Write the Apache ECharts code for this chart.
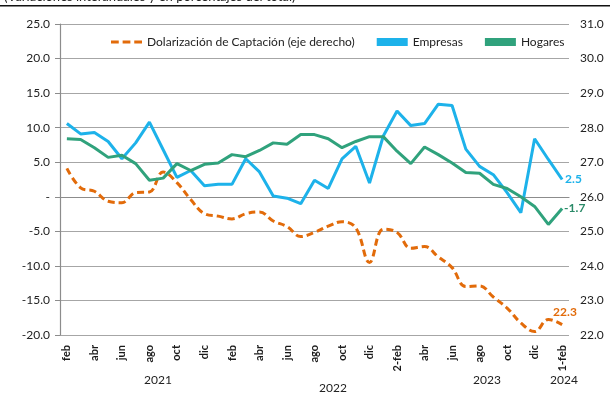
<!DOCTYPE html>
<html><head><meta charset="utf-8">
<script src="https://cdn.jsdelivr.net/npm/echarts@6/dist/echarts.min.js"></script>
<style>html,body{margin:0;padding:0;background:#fff}#c{width:610px;height:415px}</style>
</head><body><div id="c"></div>
<script>
const months = ['feb','mar','abr','may','jun','jul','ago','sep','oct','nov','dic','ene',
  'feb','mar','abr','may','jun','jul','ago','sep','oct','nov','dic','ene',
  '2-feb','mar','abr','may','jun','jul','ago','sep','oct','nov','dic','ene','1-feb'];
const years = ['2021','2022','2023','2024'];
const empresas = [10.6,9.1,9.3,8.0,5.5,7.8,10.8,6.8,2.8,3.8,1.6,1.8,1.8,5.5,3.6,0.1,-0.2,-1.0,2.4,1.2,5.5,7.3,2.0,8.8,12.4,10.3,10.6,13.4,13.2,6.9,4.4,3.2,0.6,-2.3,8.4,5.4,2.5];
const hogares = [8.4,8.3,7.1,5.7,6.0,4.8,2.4,2.7,4.8,3.8,4.7,4.9,6.1,5.8,6.7,7.8,7.6,9.0,9.0,8.4,7.1,8.0,8.7,8.7,6.6,4.8,7.2,6.1,4.9,3.5,3.4,1.8,1.2,0.0,-1.4,-4.0,-1.7];
const dolarizacion = [26.82,26.26,26.16,25.87,25.83,26.12,26.14,26.72,26.41,25.92,25.51,25.44,25.36,25.51,25.56,25.3,25.14,24.85,24.97,25.15,25.28,25.1,24.1,25.06,24.97,24.51,24.56,24.26,23.95,23.4,23.42,23.1,22.78,22.35,22.1,22.45,22.3];
const seriesNames = ['Dolarización de Captación (eje derecho)','Empresas','Hogares'];
const title = '(Variaciones interanuales y en porcentajes del total)';

const FONT = 'Lato';
const C_BLUE = '#1db2ea', C_GREEN = '#30a27c', C_ORANGE = '#e26b0a';
const endLabel = (color, offset) => ({
  show: true, offset: offset || [0,0], distance: 3, color: color, fontFamily: FONT,
  fontWeight: 'bold', fontSize: 12,
  formatter: p => Number(p.value).toFixed(1)
});

const chart = echarts.init(document.getElementById('c'));
chart.setOption({
  animation: false,
  textStyle: {fontFamily: FONT},
  grid: {left: 60, right: 41, top: 24, bottom: 80},
  legend: {
    top: 31, left: 106, itemWidth: 31, itemHeight: 8, itemGap: 22,
    textStyle: {fontFamily: FONT, fontSize: 12, color: '#222'},
    data: [
      {name: seriesNames[0], icon: 'path://M0,0H8V3H0Z M12,0H20V3H12Z M24,0H32V3H24Z', itemStyle:{color:C_ORANGE}},
      {name: seriesNames[1], icon: 'rect', itemStyle:{color:C_BLUE}},
      {name: seriesNames[2], icon: 'rect', itemStyle:{color:C_GREEN}}
    ]
  },
  xAxis: {
    type: 'category', data: months, boundaryGap: true,
    axisLine: {lineStyle: {color: '#8c8c8c', width: 1.2}},
    axisTick: {show: false},
    axisLabel: {interval: 1, rotate: 90, margin: 10, fontFamily: FONT, fontWeight: 'bold', fontSize: 11, color: '#1a1a1a'}
  },
  yAxis: [
    {type: 'value', min: -20, max: 25, interval: 5,
     axisLine: {show: true, lineStyle: {color: '#8c8c8c', width: 1.2}},
     axisTick: {show: true, length: 5, lineStyle: {color: '#8c8c8c'}},
     splitLine: {lineStyle: {color: '#a6a6a6', width: 1.2}},
     axisLabel: {margin: 10, fontFamily: FONT, fontSize: 12, color: '#222',
       formatter: v => v === 0 ? '-' : v.toFixed(1)}},
    {type: 'value', min: 22, max: 31, interval: 1, position: 'right',
     axisLine: {show: false}, axisTick: {show: false}, splitLine: {show: false},
     axisLabel: {margin: 11, fontFamily: FONT, fontSize: 12, color: '#222',
       formatter: v => v.toFixed(1)}}
  ],
  series: [
    {name: seriesNames[0], type: 'line', yAxisIndex: 1, data: dolarizacion, smooth: 0.4,
     symbol: 'none', z: 3,
     lineStyle: {color: C_ORANGE, width: 3, type: [7,4]},
     itemStyle: {color: C_ORANGE},
     endLabel: endLabel(C_ORANGE, [-12, -13])},
    {name: seriesNames[1], type: 'line', yAxisIndex: 0, data: empresas, symbol: 'none', z: 4,
     lineStyle: {color: C_BLUE, width: 3}, itemStyle: {color: C_BLUE},
     endLabel: endLabel(C_BLUE, [0, 0])},
    {name: seriesNames[2], type: 'line', yAxisIndex: 0, data: hogares, symbol: 'none', z: 5,
     lineStyle: {color: C_GREEN, width: 3}, itemStyle: {color: C_GREEN},
     endLabel: endLabel('#2a8a68', [-1, 0])}
  ],
  graphic: [
    {type: 'text', left: 4, top: -10, style: {text: title, fontFamily: FONT, fontSize: 13, fill: '#222'}},
    {type: 'rect', shape: {x: 0, y: 5, width: 610, height: 1.6}, style: {fill: '#111'}},
    {type: 'text', x: 158, y: 380, style: {text: years[0], fontFamily: FONT, fontSize: 12, fill: '#222', align: 'center', verticalAlign: 'middle'}},
    {type: 'text', x: 333, y: 388, style: {text: years[1], fontFamily: FONT, fontSize: 12, fill: '#222', align: 'center', verticalAlign: 'middle'}},
    {type: 'text', x: 487, y: 380, style: {text: years[2], fontFamily: FONT, fontSize: 12, fill: '#222', align: 'center', verticalAlign: 'middle'}},
    {type: 'text', x: 564, y: 380, style: {text: years[3], fontFamily: FONT, fontSize: 12, fill: '#222', align: 'center', verticalAlign: 'middle'}}
  ]
});
</script></body></html>
